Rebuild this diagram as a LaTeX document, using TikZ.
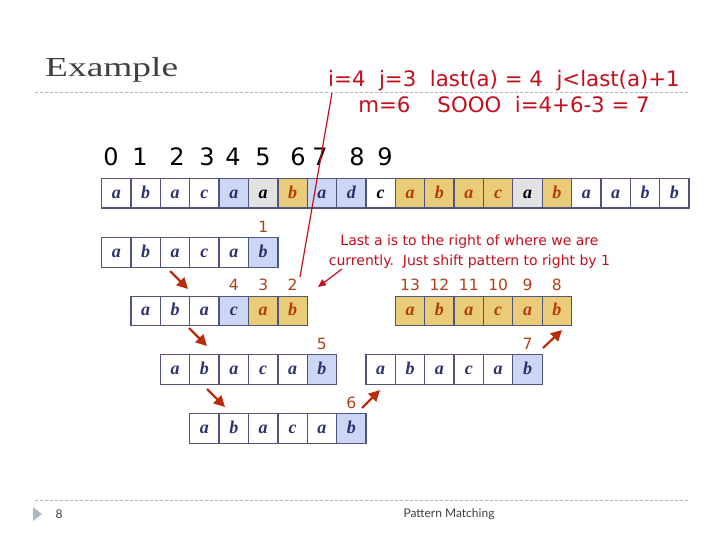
\documentclass[tikz,border=0pt]{standalone}
\usepackage{fontspec}
\setmainfont{Liberation Serif}
\newfontfamily\vfont{DejaVu Sans}
\newfontfamily\gfont{Lato}
\usetikzlibrary{arrows.meta}
\definecolor{navytxt}{RGB}{45,50,110}
\definecolor{cellborder}{RGB}{80,85,125}
\definecolor{lblue}{RGB}{204,214,245}
\definecolor{lgray}{RGB}{226,226,226}
\definecolor{lyellow}{RGB}{234,204,120}
\definecolor{orangetxt}{RGB}{180,60,10}
\definecolor{numlbl}{RGB}{175,65,25}
\definecolor{arrowcol}{RGB}{185,45,10}
\definecolor{redtxt}{RGB}{195,15,30}
\definecolor{dashcol}{RGB}{170,185,195}
\definecolor{titlecol}{RGB}{64,64,64}
\newcommand\cellrow[4]{\foreach \l/\s [count=\i from 0] in {#4} {\node[cell,\s] (#1\i) at ({#2+\i*29.37},#3) {\l};}}
\begin{document}
\begin{tikzpicture}[x=1pt,y=-1pt,
  cell/.style={draw=cellborder, line width=1.3pt, minimum width=29.37pt, minimum height=29.5pt,
    inner sep=0pt, anchor=north west, text height=10pt, text depth=0pt,
    font=\fontsize{18}{18}\selectfont\bfseries\itshape},
  cW/.style={fill=white, text=navytxt},
  cB/.style={fill=lblue, text=navytxt},
  cG/.style={fill=lgray, text=black},
  cY/.style={fill=lyellow, text=orangetxt},
  cK/.style={fill=white, text=black},
  lbl/.style={text=numlbl, font=\vfont\fontsize{15.5}{15.5}\selectfont, inner sep=0pt},
  idx/.style={text=black, font=\vfont\fontsize{24}{24}\selectfont, inner sep=0pt},
  brarrow/.style={draw=arrowcol, line width=2.2pt, -{Triangle[length=11pt,width=11pt]}},
  redline/.style={draw=redtxt, line width=1.2pt},
  dashline/.style={draw=dashcol, line width=0.8pt, dash pattern=on 3pt off 2pt}
]
\useasboundingbox (0,0) rectangle (720,540);
\fill[white] (0,0) rectangle (720,540);

% header
\node[anchor=base west, inner sep=0pt, text=titlecol] (title) at (45,77)
  {\fontsize{27.5}{27.5}\selectfont\scalebox{1.36}[1]{Example}};
\draw[dashline] (35,92) -- (688,92);
\node[align=center, text=redtxt, font=\vfont\fontsize{21.3}{26}\selectfont, inner sep=0pt] (info) at (504,91.5)
  {i=4\ \ j=3\ \ last(a) = 4\ \ j<last(a)+1\\m=6\ \ \ \ SOOO\ \ i=4+6-3 = 7};

% index numbers
\foreach \d/\x in {0/111,1/140,2/177,3/207,4/233,5/263,6/298,7/320,8/357,9/385}
  \node[idx] (n\d) at (\x,157) {\d};

% rows
\cellrow{A}{101}{178}{a/cW,b/cW,a/cW,c/cW,a/cB,a/cG,b/cY,a/cB,d/cB,c/cK,a/cY,b/cY,a/cY,c/cY,a/cG,b/cY,a/cW,a/cW,b/cW,b/cW}
\cellrow{B}{101}{237}{a/cW,b/cW,a/cW,c/cW,a/cW,b/cB}
\cellrow{C}{130.37}{295.5}{a/cW,b/cW,a/cW,c/cB,a/cY,b/cY}
\cellrow{D}{159.74}{354}{a/cW,b/cW,a/cW,c/cW,a/cW,b/cB}
\cellrow{E}{189.11}{413}{a/cW,b/cW,a/cW,c/cW,a/cW,b/cB}
\cellrow{F}{365.33}{354}{a/cW,b/cW,a/cW,c/cW,a/cW,b/cB}
\cellrow{G}{394.70}{295.5}{a/cY,b/cY,a/cY,c/cY,a/cY,b/cY}

% labels
\node[lbl] (l1) at ([yshift=10.5pt]B5.north) {1};
\node[lbl] (l4) at ([yshift=10.5pt]C3.north) {4};
\node[lbl] (l3) at ([yshift=10.5pt]C4.north) {3};
\node[lbl] (l2) at ([yshift=10.5pt]C5.north) {2};
\node[lbl] (l5) at ([yshift=10.5pt]D5.north) {5};
\node[lbl] (l6) at ([yshift=10.5pt]E5.north) {6};
\node[lbl] (l7) at ([yshift=10.5pt]F5.north) {7};
\foreach \n [count=\k from 0] in {13,12,11,10,9,8}
  \node[lbl] (g\n) at ([yshift=10.5pt]G\k.north) {\n};

% explanation
\node[align=center, text=redtxt, font=\vfont\fontsize{14}{20}\selectfont, inner sep=0pt] (expl) at (469.5,252)
  {Last a is to the right of where we are\\currently.\ \ Just shift pattern to right by 1};

% red connectors
\coordinate (p1) at (332,93);
\coordinate (p2) at (300,277);
\draw[redline] (p1) -- (p2);
\coordinate (q1) at (342,269);
\coordinate (q2) at (318,287);
\draw[redline, -{Triangle[length=8pt,width=7pt]}] (q1) -- (q2);

% brown arrows
\coordinate (a1s) at (170,271); \coordinate (a1e) at (188,289);
\coordinate (a2s) at (189,328); \coordinate (a2e) at (207,346);
\coordinate (a3s) at (207,389); \coordinate (a3e) at (225,407);
\coordinate (a4s) at (362,408); \coordinate (a4e) at (380,390);
\coordinate (a5s) at (543,348); \coordinate (a5e) at (562,330);
\draw[brarrow] (a1s) -- (a1e);
\draw[brarrow] (a2s) -- (a2e);
\draw[brarrow] (a3s) -- (a3e);
\draw[brarrow] (a4s) -- (a4e);
\draw[brarrow] (a5s) -- (a5e);

% footer
\draw[dashline] (35,500) -- (688,500);
\fill[dashcol] (33,507) -- (42,514) -- (33,521) -- cycle;
\node[text=titlecol, font=\gfont\fontsize{12}{12}\selectfont, inner sep=0pt] (pg) at (59,514) {8};
\node[text=titlecol, font=\gfont\fontsize{12}{12}\selectfont, inner sep=0pt] (ft) at (449,514) {Pattern Matching};
\end{tikzpicture}
\end{document}
